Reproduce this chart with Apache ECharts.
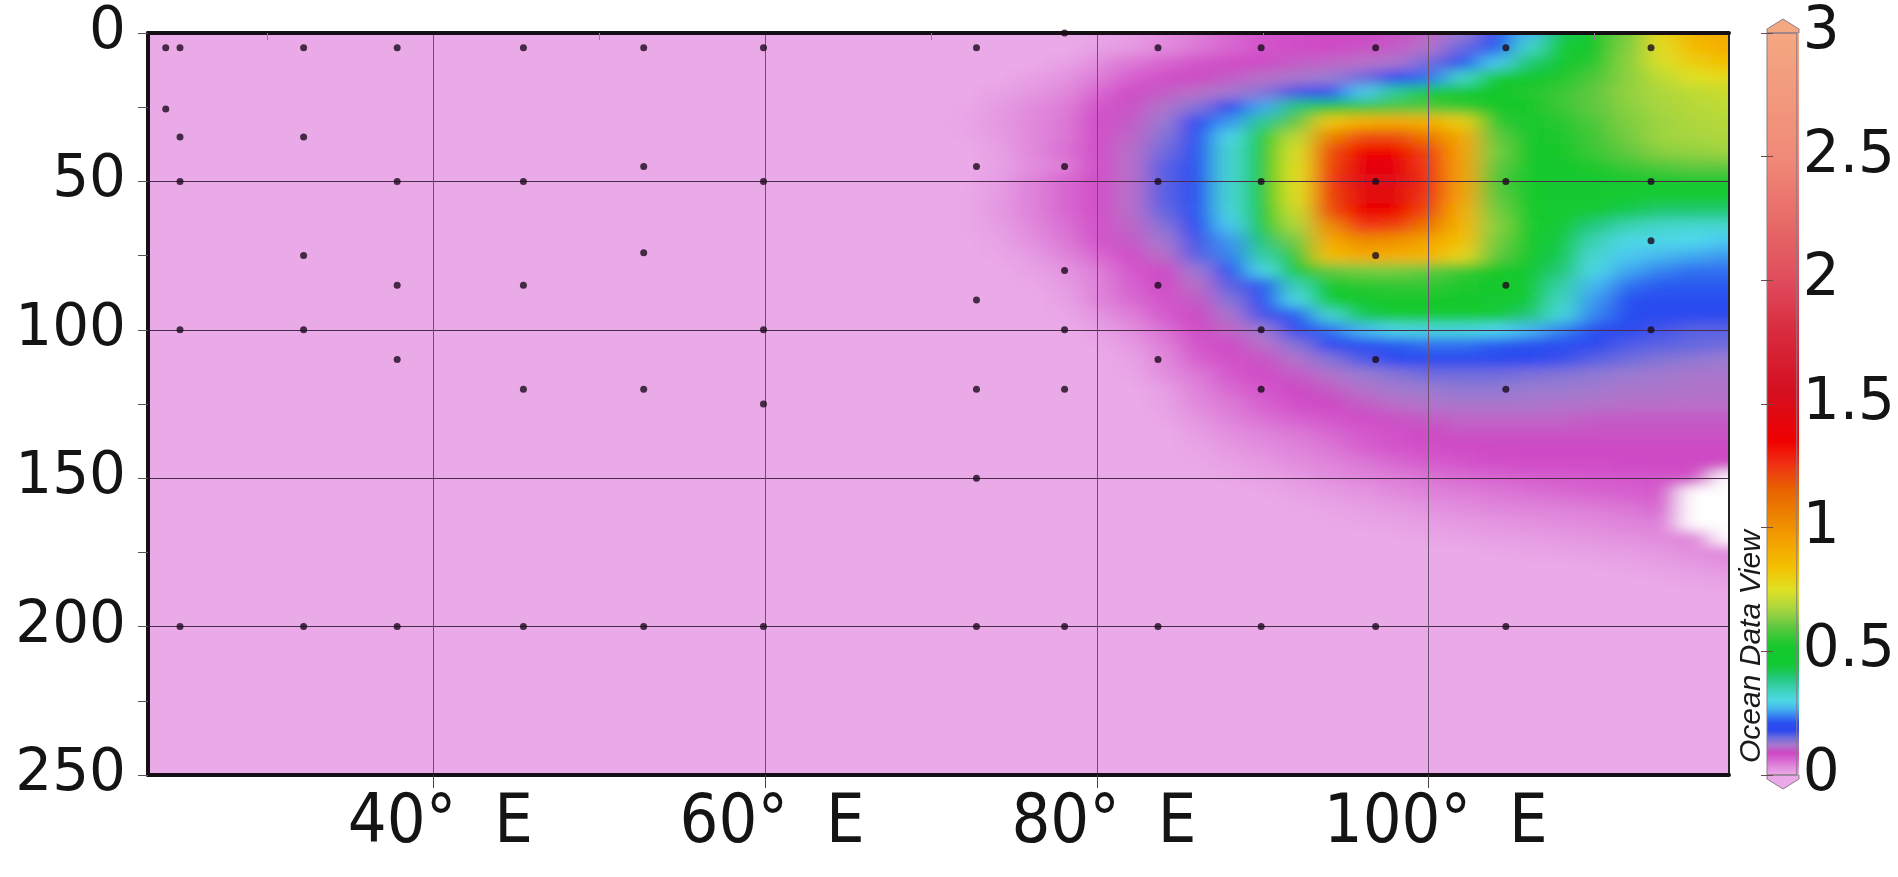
<!DOCTYPE html>
<html>
<head>
<meta charset="utf-8">
<script src="https://cdn.jsdelivr.net/npm/echarts@6/dist/echarts.min.js"></script>
<style>
  html, body { margin: 0; padding: 0; background: #ffffff; }
  #wrap { position: relative; width: 1898px; height: 877px; }
  #fieldClip { position: absolute; overflow: hidden; }
  #field { position: absolute; width: 1898px; height: 877px; filter: url(#soften); }
  #chart { position: absolute; left: 0; top: 0; width: 1898px; height: 877px; }
</style>
</head>
<body>
<svg width="0" height="0" style="position:absolute">
  <filter id="soften" x="-5%" y="-5%" width="110%" height="110%">
    <feGaussianBlur stdDeviation="12 6"/>
  </filter>
</svg>
<div id="wrap">
  <div id="fieldClip"><div id="field"></div></div>
  <div id="chart"></div>
</div>
<script>
// ---- Section extent -------------------------------------------------------
const lonMin = 22.8, lonMax = 118.1;      // °E
const depthMin = 0, depthMax = 250;       // m
const lonLabelTicks = [40, 60, 80, 100];
const lonMinorTicks = [30, 50, 70, 90, 110];

// ---- Gridded field (eastern part of the section; everything else is 0) ----
const gridLons = [70, 72, 74, 76, 78, 80, 82, 84, 86, 88, 90, 92, 94, 96, 98, 100, 102, 104, 106, 108, 110, 112, 114, 116, 118];
const gridDepths = [0, 5, 10, 15, 20, 25, 30, 35, 40, 45, 50, 55, 60, 65, 70, 75, 80, 85, 90, 95, 100, 105, 110, 115, 120, 125, 130, 135, 140, 145, 150, 155, 160, 165, 170, 175, 180, 185];
const gridValues = [
  [0,0,0,0,0,0.005,0.015,0.03,0.045,0.06,0.075,0.08,0.085,0.09,0.095,0.105,0.13,0.18,0.27,0.42,0.5,0.62,0.78,0.88,0.92],
  [0,0,0,0,0,0.01,0.02,0.035,0.05,0.062,0.075,0.082,0.088,0.095,0.1,0.115,0.155,0.22,0.33,0.45,0.52,0.63,0.76,0.86,0.9],
  [0,0,0,0,0.01,0.03,0.05,0.062,0.075,0.085,0.092,0.1,0.105,0.11,0.12,0.15,0.2,0.28,0.4,0.48,0.54,0.64,0.74,0.8,0.84],
  [0,0,0,0.012,0.025,0.045,0.065,0.08,0.092,0.1,0.11,0.12,0.13,0.15,0.19,0.23,0.33,0.45,0.5,0.53,0.58,0.64,0.7,0.75,0.77],
  [0,0,0.01,0.022,0.035,0.06,0.085,0.1,0.11,0.125,0.14,0.17,0.21,0.28,0.38,0.45,0.5,0.52,0.53,0.56,0.6,0.65,0.68,0.7,0.72],
  [0,0.004,0.018,0.032,0.045,0.075,0.095,0.115,0.14,0.19,0.26,0.4,0.52,0.55,0.58,0.58,0.55,0.52,0.52,0.56,0.6,0.64,0.67,0.69,0.7],
  [0,0.006,0.02,0.035,0.05,0.08,0.1,0.13,0.18,0.25,0.38,0.6,0.82,0.9,0.92,0.9,0.8,0.55,0.5,0.54,0.58,0.63,0.66,0.68,0.69],
  [0,0.004,0.018,0.035,0.05,0.08,0.105,0.14,0.2,0.3,0.45,0.7,1.05,1.2,1.2,1.08,0.92,0.6,0.5,0.53,0.57,0.62,0.66,0.67,0.68],
  [0,0,0.012,0.035,0.055,0.08,0.11,0.15,0.21,0.32,0.48,0.74,1.2,1.35,1.35,1.22,0.95,0.62,0.51,0.52,0.56,0.6,0.64,0.65,0.66],
  [0,0,0.01,0.03,0.045,0.08,0.11,0.16,0.21,0.32,0.5,0.75,1.22,1.42,1.42,1.24,0.95,0.6,0.5,0.5,0.53,0.56,0.58,0.6,0.6],
  [0,0,0.015,0.04,0.06,0.08,0.11,0.16,0.21,0.32,0.5,0.75,1.24,1.46,1.46,1.26,0.95,0.58,0.5,0.48,0.48,0.48,0.48,0.48,0.48],
  [0,0.002,0.018,0.04,0.06,0.08,0.11,0.16,0.21,0.32,0.5,0.75,1.22,1.44,1.44,1.24,0.95,0.6,0.5,0.48,0.47,0.46,0.46,0.46,0.46],
  [0,0.003,0.02,0.04,0.06,0.08,0.11,0.155,0.21,0.31,0.48,0.72,1.2,1.36,1.36,1.2,0.9,0.62,0.5,0.46,0.44,0.42,0.4,0.4,0.4],
  [0,0.002,0.015,0.035,0.055,0.078,0.105,0.14,0.19,0.28,0.44,0.68,1.02,1.25,1.22,1.08,0.88,0.64,0.5,0.44,0.39,0.35,0.33,0.32,0.32],
  [0,0,0.01,0.028,0.05,0.075,0.1,0.125,0.17,0.25,0.4,0.62,0.92,1.02,1.0,0.94,0.84,0.62,0.5,0.43,0.35,0.3,0.3,0.29,0.28],
  [0,0,0.005,0.018,0.038,0.06,0.085,0.11,0.16,0.24,0.36,0.55,0.85,0.92,0.9,0.88,0.78,0.6,0.5,0.42,0.32,0.28,0.27,0.26,0.25],
  [0,0,0,0.01,0.025,0.045,0.07,0.09,0.13,0.2,0.3,0.46,0.6,0.62,0.62,0.6,0.56,0.52,0.48,0.4,0.3,0.26,0.24,0.23,0.23],
  [0,0,0,0.004,0.018,0.04,0.065,0.085,0.11,0.16,0.22,0.35,0.5,0.54,0.55,0.55,0.53,0.5,0.46,0.36,0.27,0.23,0.22,0.22,0.22],
  [0,0,0,0,0.01,0.038,0.058,0.078,0.1,0.14,0.2,0.3,0.46,0.5,0.52,0.52,0.5,0.48,0.44,0.34,0.25,0.21,0.2,0.2,0.2],
  [0,0,0,0,0.005,0.025,0.045,0.068,0.09,0.12,0.17,0.22,0.32,0.42,0.46,0.46,0.46,0.44,0.4,0.31,0.24,0.2,0.19,0.19,0.18],
  [0,0,0,0,0,0.01,0.03,0.055,0.085,0.105,0.13,0.18,0.23,0.27,0.3,0.31,0.31,0.29,0.27,0.24,0.2,0.18,0.17,0.16,0.16],
  [0,0,0,0,0,0.004,0.02,0.045,0.075,0.09,0.11,0.14,0.18,0.2,0.22,0.23,0.23,0.22,0.21,0.2,0.18,0.165,0.16,0.155,0.15],
  [0,0,0,0,0,0,0.01,0.035,0.065,0.08,0.095,0.115,0.14,0.165,0.18,0.19,0.19,0.19,0.185,0.175,0.16,0.15,0.14,0.135,0.13],
  [0,0,0,0,0,0,0.005,0.03,0.05,0.07,0.085,0.1,0.115,0.13,0.14,0.15,0.15,0.15,0.145,0.14,0.135,0.13,0.125,0.12,0.12],
  [0,0,0,0,0,0,0,0.015,0.04,0.06,0.075,0.09,0.1,0.115,0.125,0.13,0.135,0.135,0.13,0.13,0.125,0.12,0.12,0.115,0.115],
  [0,0,0,0,0,0,0,0.01,0.035,0.05,0.065,0.08,0.09,0.1,0.11,0.115,0.12,0.12,0.12,0.115,0.115,0.11,0.11,0.11,0.11],
  [0,0,0,0,0,0,0,0.005,0.025,0.04,0.055,0.065,0.075,0.085,0.095,0.1,0.105,0.105,0.105,0.105,0.1,0.1,0.1,0.1,0.1],
  [0,0,0,0,0,0,0,0,0.015,0.03,0.04,0.05,0.06,0.07,0.08,0.09,0.095,0.095,0.095,0.095,0.095,0.095,0.095,0.095,0.095],
  [0,0,0,0,0,0,0,0,0.008,0.02,0.03,0.04,0.05,0.065,0.075,0.08,0.085,0.09,0.09,0.09,0.09,0.09,0.09,0.09,0.09],
  [0,0,0,0,0,0,0,0,0.002,0.012,0.02,0.03,0.04,0.05,0.06,0.068,0.075,0.08,0.085,0.085,0.085,0.088,0.09,0.09,0.09],
  [0,0,0,0,0,0,0,0,0,0.005,0.012,0.02,0.03,0.038,0.045,0.052,0.058,0.062,0.066,0.068,0.07,0.072,0.075,0.08,null],
  [0,0,0,0,0,0,0,0,0,0,0.003,0.01,0.018,0.025,0.033,0.04,0.045,0.05,0.055,0.058,0.062,0.065,0.07,null,null],
  [0,0,0,0,0,0,0,0,0,0,0,0.003,0.008,0.014,0.02,0.026,0.032,0.037,0.04,0.043,0.047,0.052,0.06,null,null],
  [0,0,0,0,0,0,0,0,0,0,0,0,0.002,0.006,0.01,0.015,0.02,0.024,0.028,0.031,0.035,0.04,0.045,null,null],
  [0,0,0,0,0,0,0,0,0,0,0,0,0,0,0.002,0.006,0.01,0.014,0.017,0.02,0.024,0.028,0.033,0.04,null],
  [0,0,0,0,0,0,0,0,0,0,0,0,0,0,0,0,0,0.004,0.007,0.01,0.013,0.017,0.022,0.03,0.04],
  [0,0,0,0,0,0,0,0,0,0,0,0,0,0,0,0,0,0,0,0,0.003,0.007,0.012,0.018,0.025],
  [0,0,0,0,0,0,0,0,0,0,0,0,0,0,0,0,0,0,0,0,0,0,0.002,0.006,0.01]
];

// ---- Sampling stations: longitude and the depths sampled there ------------
const stationLons = [23.87, 24.73, 32.18, 37.82, 45.43, 52.68, 59.9, 72.74, 78.05, 83.68, 89.9, 96.8, 104.65, 113.4];
const stationDepths = [
  [5, 25.6],
  [5, 35, 50, 100, 200],
  [5, 35, 75, 100, 200],
  [5, 50, 85, 110, 200],
  [5, 50, 85, 120, 200],
  [5, 45, 74, 120, 200],
  [5, 50, 100, 125, 200],
  [5, 45, 90, 120, 150, 200],
  [0, 45, 80, 100, 120, 200],
  [5, 50, 85, 110, 200],
  [5, 50, 100, 120, 200],
  [5, 50, 75, 110, 200],
  [5, 50, 85, 120, 200],
  [5, 50, 70, 100]
];

// ---- Colour scale (ODV-style rainbow with a pink low end) ------------------
const colourStops = [
  [0.00, '#eaaae8'], [0.015, '#e69ee4'], [0.03, '#e28ede'], [0.05, '#dc78d6'],
  [0.07, '#d458cc'], [0.09, '#ce48c4'], [0.11, '#b870c8'], [0.13, '#9a7cd0'],
  [0.155, '#6468e0'], [0.18, '#2c48f0'], [0.215, '#2850f0'], [0.25, '#3c98f0'],
  [0.29, '#50d8ee'], [0.34, '#40d4c0'], [0.39, '#24c880'], [0.44, '#12ca34'],
  [0.52, '#14c82c'], [0.60, '#60c840'], [0.67, '#a8d640'], [0.75, '#e0e024'],
  [0.84, '#f4c000'], [0.95, '#f4a000'], [1.05, '#ec8200'], [1.15, '#e86400'],
  [1.25, '#f03414'], [1.35, '#f00000'], [1.55, '#d41020'], [1.80, '#d82c40'],
  [2.00, '#e04c5c'], [2.25, '#e86c68'], [2.50, '#f08a78'], [3.00, '#f4a882']
];

function hexRgb(h) {
  return [parseInt(h.slice(1, 3), 16), parseInt(h.slice(3, 5), 16), parseInt(h.slice(5, 7), 16)];
}
function colourAt(v) {
  for (let i = 1; i < colourStops.length; i++) {
    const [v1, c1] = colourStops[i];
    if (v <= v1) {
      const [v0, c0] = colourStops[i - 1];
      const t = (v - v0) / (v1 - v0);
      const a = hexRgb(c0), b = hexRgb(c1);
      const m = a.map((x, k) => Math.round(x + (b[k] - x) * t));
      return 'rgb(' + m.join(',') + ')';
    }
  }
  return colourStops[colourStops.length - 1][1];
}
// evenly spaced palette for the continuous visual map (0 .. 3 in steps of 0.01)
const palette = [];
for (let i = 0; i <= 300; i++) palette.push(colourAt(i / 100));

// ---- Series data from the tables -------------------------------------------
const fieldData = [], gapData = [];
gridDepths.forEach((d, r) => {
  gridLons.forEach((lon, c) => {
    const v = gridValues[r][c];
    if (v === null) gapData.push([lon, d]);
    else fieldData.push([lon, d, v]);
  });
});
const stationData = [];
stationLons.forEach((lon, i) => stationDepths[i].forEach(d => stationData.push([lon, d])));

const halfLon = (gridLons[1] - gridLons[0]) / 2;
const halfDepth = (gridDepths[1] - gridDepths[0]) / 2;
const firstDepth = gridDepths[0], lastLon = gridLons[gridLons.length - 1];

// one rectangle per grid node; cells on the top and right rows run past the frame
function cellRenderer(fillOf) {
  return function (params, api) {
    const lon = api.value(0), d = api.value(1);
    const a = api.coord([lon - halfLon, d - halfDepth]);
    const b = api.coord([lon + halfLon, d + halfDepth]);
    let x0 = Math.min(a[0], b[0]), x1 = Math.max(a[0], b[0]);
    let y0 = Math.min(a[1], b[1]), y1 = Math.max(a[1], b[1]);
    if (d === firstDepth) y0 -= 40;
    if (lon === lastLon) x1 += 40;
    return {
      type: 'rect',
      shape: { x: x0, y: y0, width: x1 - x0 + 0.6, height: y1 - y0 + 0.6 },
      style: { fill: fillOf(api) }
    };
  };
}

// ---- Layout ---------------------------------------------------------------
const plot = { left: 148, top: 33, width: 1581, height: 742 };
const bar = { left: 1767, top: 33, width: 32, height: 742 };
const ink = '#161016';
const labelFont = "'DejaVu Sans', Verdana, sans-serif";
const textFont = "'Liberation Sans', Arial, sans-serif";
const narrowFont = "'Liberation Sans Narrow', 'Arial Narrow', 'DejaVu Sans Condensed', sans-serif";

// clip box for the smoothed field layer = plot frame
const clipBox = document.getElementById('fieldClip');
Object.assign(clipBox.style, { left: plot.left + 'px', top: plot.top + 'px', width: plot.width + 'px', height: plot.height + 'px' });
const fieldDiv = document.getElementById('field');
Object.assign(fieldDiv.style, { left: -plot.left + 'px', top: -plot.top + 'px' });

const lonAxisBase = { type: 'value', min: lonMin, max: lonMax };
const depthAxisBase = { type: 'value', inverse: true, min: depthMin, max: depthMax };

// ---- Field layer --------------------------------------------------------------
const fieldChart = echarts.init(fieldDiv, null, { renderer: 'canvas' });
fieldChart.setOption({
  animation: false,
  backgroundColor: colourAt(0),
  grid: Object.assign({ show: false }, plot),
  xAxis: Object.assign({ show: false }, lonAxisBase),
  yAxis: Object.assign({ show: false }, depthAxisBase),
  visualMap: {
    show: false, type: 'continuous', min: 0, max: 3, dimension: 2, seriesIndex: 0,
    inRange: { color: palette }
  },
  series: [
    {
      name: 'field', type: 'custom', clip: false, silent: true,
      renderItem: cellRenderer(api => api.visual('color')),
      data: fieldData
    },
    {
      name: 'no data', type: 'custom', clip: false, silent: true,
      renderItem: cellRenderer(() => '#ffffff'),
      data: gapData
    }
  ]
});

// ---- Frame, axes, stations and colour bar -----------------------------------
const chart = echarts.init(document.getElementById('chart'), null, { renderer: 'canvas' });
chart.setOption({
  animation: false,
  backgroundColor: 'transparent',
  grid: [
    Object.assign({ show: false }, plot),
    Object.assign({ show: true, backgroundColor: 'transparent', borderColor: '#8a7a8a', borderWidth: 1, z: 6 }, bar)
  ],
  xAxis: [
    Object.assign({
      gridIndex: 0, position: 'bottom',
      axisLine: { show: true, onZero: false, lineStyle: { color: ink, width: 4 } },
      axisTick: { show: true, customValues: lonLabelTicks, length: 13, lineStyle: { color: '#4a404a', width: 1 } },
      axisLabel: {
        customValues: lonLabelTicks, margin: 15, fontSize: 68, fontFamily: narrowFont, color: '#141414',
        formatter: v => '{n|' + v + '°}{e|E}',
        rich: {
          n: { fontSize: 68, fontFamily: narrowFont, color: '#141414', padding: [0, 0, 0, 14] },
          e: { fontSize: 68, fontFamily: narrowFont, color: '#141414', padding: [0, 0, 0, 38] }
        }
      },
      splitLine: { show: true, lineStyle: { color: '#6e506e', width: 1 } }
    }, lonAxisBase),
    Object.assign({
      gridIndex: 0, position: 'bottom',
      axisLine: { show: false },
      axisTick: { show: true, customValues: lonMinorTicks, length: 7, lineStyle: { color: '#8a808a', width: 1 } },
      axisLabel: { show: false }, splitLine: { show: false }
    }, lonAxisBase),
    Object.assign({
      gridIndex: 0, position: 'top',
      axisLine: { show: true, onZero: false, lineStyle: { color: ink, width: 4 } },
      axisTick: { show: false }, axisLabel: { show: false }, splitLine: { show: false }
    }, lonAxisBase),
    { gridIndex: 1, type: 'value', min: 0, max: 1, show: false }
  ],
  yAxis: [
    Object.assign({
      gridIndex: 0, interval: 50,
      axisLine: { show: true, onZero: false, lineStyle: { color: ink, width: 4 } },
      axisTick: { show: true, length: 10, lineStyle: { color: '#5a505a', width: 1 } },
      minorTick: { show: true, splitNumber: 2, length: 10, lineStyle: { color: '#5a505a', width: 1 } },
      axisLabel: { margin: 22, fontSize: 58, fontFamily: labelFont, color: '#141414' },
      splitLine: { show: true, lineStyle: { color: '#4a2c4a', width: 1.2 } }
    }, depthAxisBase),
    Object.assign({
      gridIndex: 0, position: 'right',
      axisLine: { show: true, onZero: false, lineStyle: { color: '#2a202a', width: 2 } },
      axisTick: { show: false }, axisLabel: { show: false }, splitLine: { show: false }
    }, depthAxisBase),
    {
      gridIndex: 1, type: 'value', min: 0, max: 3, interval: 0.5, position: 'right', z: 7,
      axisLine: { show: false },
      axisTick: { show: true, inside: true, length: 6, lineStyle: { color: '#6a4a4a', width: 1 } },
      axisLabel: { margin: 6, fontSize: 58, fontFamily: labelFont, color: '#141414' },
      splitLine: { show: false }
    },
    {
      gridIndex: 1, type: 'value', min: 0, max: 3, interval: 0.5, position: 'left', z: 7,
      axisLine: { show: false },
      axisTick: { show: true, inside: true, length: 6, lineStyle: { color: '#6a4a4a', width: 1 } },
      axisLabel: { show: false }, splitLine: { show: false }
    }
  ],
  visualMap: {
    type: 'continuous', min: 0, max: 3, dimension: 2, seriesIndex: [],
    calculable: false, hoverLink: false, orient: 'vertical',
    left: bar.left, top: bar.top, itemWidth: bar.width, itemHeight: bar.height, padding: 0,
    inRange: { color: palette }
  },
  graphic: [
    {
      type: 'text', x: 1752, y: 763, rotation: Math.PI / 2, z: 10,
      style: {
        text: 'Ocean Data View', fill: '#1a1a1a', font: 'italic 30px ' + textFont,
        textAlign: 'left', textVerticalAlign: 'middle'
      }
    },
    {
      type: 'polygon', z: 5,
      shape: { points: [[bar.left, bar.top + bar.height], [bar.left + bar.width, bar.top + bar.height], [bar.left + bar.width, bar.top + bar.height + 4], [bar.left + bar.width / 2, bar.top + bar.height + 14], [bar.left, bar.top + bar.height + 4]] },
      style: { fill: colourAt(0), stroke: '#8a7a8a', lineWidth: 1 }
    },
    {
      type: 'polygon', z: 5,
      shape: { points: [[bar.left, bar.top], [bar.left + bar.width, bar.top], [bar.left + bar.width, bar.top - 4], [bar.left + bar.width / 2, bar.top - 14], [bar.left, bar.top - 4]] },
      style: { fill: colourAt(3), stroke: '#8a7a8a', lineWidth: 1 }
    }
  ],
  series: [
    {
      name: 'stations', type: 'scatter', xAxisIndex: 0, yAxisIndex: 0, z: 5, silent: true,
      symbol: 'circle', symbolSize: 7, itemStyle: { color: '#1a0a1a' },
      data: stationData
    }
  ]
});
</script>
</body>
</html>
